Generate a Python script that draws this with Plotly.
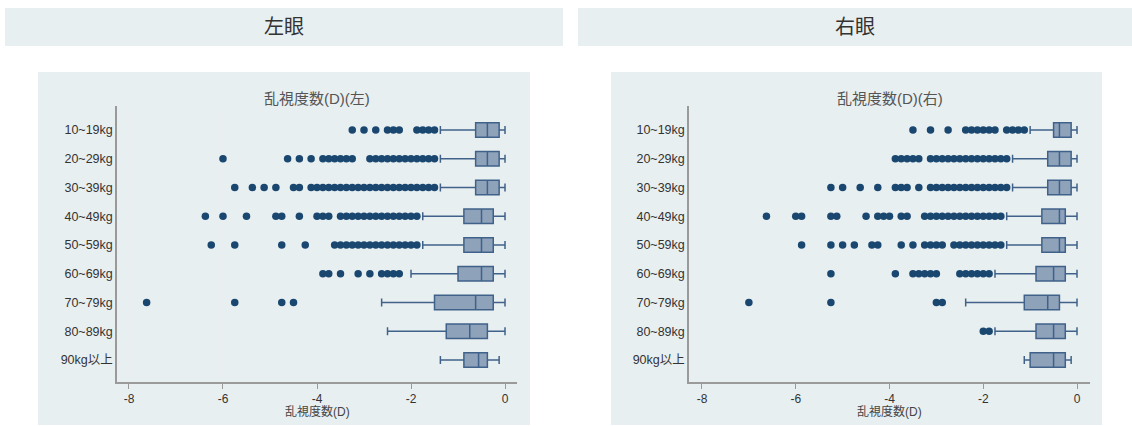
import plotly.graph_objects as go

categories = ["10~19kg", "20~29kg", "30~39kg", "40~49kg", "50~59kg",
              "60~69kg", "70~79kg", "80~89kg", "90kg以上"]
x_ticks = [-8, -6, -4, -2, 0]
x_tick_labels = ["-8", "-6", "-4", "-2", "0"]

# 左眼
left_q1 = [-0.625, -0.625, -0.625, -0.875, -0.875, -1.0, -1.5, -1.25, -0.875]
left_median = [-0.375, -0.375, -0.375, -0.5, -0.5, -0.5, -0.625, -0.75, -0.5625]
left_q3 = [-0.125, -0.125, -0.125, -0.25, -0.25, -0.25, -0.25, -0.375, -0.375]
left_lower = [-1.375, -1.375, -1.375, -1.75, -1.75, -2.0, -2.625, -2.5, -1.375]
left_upper = [0, 0, 0, 0, 0, 0, 0, 0, -0.125]
left_outliers = [
    [-3.25, -3.0, -2.75, -2.5, -2.375, -2.25, -1.875, -1.75, -1.625, -1.5],
    [-6.0, -4.625, -4.375, -4.125, -3.875, -3.75, -3.625, -3.5, -3.375, -3.25,
     -2.875, -2.75, -2.625, -2.5, -2.375, -2.25, -2.125, -2.0, -1.875, -1.75, -1.625, -1.5],
    [-5.75, -5.375, -5.125, -4.875, -4.5, -4.375, -4.125, -4.0, -3.875, -3.75, -3.625,
     -3.5, -3.375, -3.25, -3.125, -3.0, -2.875, -2.75, -2.625, -2.5, -2.375, -2.25,
     -2.125, -2.0, -1.875, -1.75, -1.625, -1.5],
    [-6.375, -6.0, -5.5, -4.875, -4.75, -4.375, -4.0, -3.875, -3.75, -3.5, -3.375,
     -3.25, -3.125, -3.0, -2.875, -2.75, -2.625, -2.5, -2.375, -2.25, -2.125, -2.0, -1.875],
    [-6.25, -5.75, -4.75, -4.25, -3.625, -3.5, -3.375, -3.25, -3.125, -3.0, -2.875,
     -2.75, -2.625, -2.5, -2.375, -2.25, -2.125, -2.0, -1.875],
    [-3.875, -3.75, -3.5, -3.125, -2.875, -2.625, -2.5, -2.375, -2.25],
    [-7.625, -5.75, -4.75, -4.5],
    [],
    [],
]

# 右眼
right_q1 = [-0.5, -0.625, -0.625, -0.75, -0.75, -0.875, -1.125, -0.875, -1.0]
right_median = [-0.375, -0.375, -0.375, -0.375, -0.375, -0.5, -0.625, -0.5, -0.5]
right_q3 = [-0.125, -0.125, -0.125, -0.25, -0.25, -0.25, -0.375, -0.25, -0.25]
right_lower = [-1.0, -1.375, -1.375, -1.5, -1.5, -1.75, -2.375, -1.75, -1.125]
right_upper = [0, 0, 0, 0, 0, 0, 0, 0, -0.125]
right_outliers = [
    [-3.5, -3.125, -2.75, -2.375, -2.25, -2.125, -2.0, -1.875, -1.75, -1.5, -1.375, -1.25, -1.125],
    [-3.875, -3.75, -3.625, -3.5, -3.375, -3.125, -3.0, -2.875, -2.75, -2.625, -2.5,
     -2.375, -2.25, -2.125, -2.0, -1.875, -1.75, -1.625, -1.5],
    [-5.25, -5.0, -4.625, -4.25, -3.875, -3.75, -3.625, -3.375, -3.125, -3.0, -2.875,
     -2.75, -2.625, -2.5, -2.375, -2.25, -2.125, -2.0, -1.875, -1.75, -1.625, -1.5],
    [-6.625, -6.0, -5.875, -5.25, -5.125, -4.5, -4.25, -4.125, -4.0, -3.75, -3.625,
     -3.25, -3.125, -3.0, -2.875, -2.75, -2.625, -2.5, -2.375, -2.25, -2.125, -2.0,
     -1.875, -1.75, -1.625],
    [-5.875, -5.25, -5.0, -4.75, -4.375, -4.25, -3.75, -3.5, -3.25, -3.125, -3.0, -2.875,
     -2.625, -2.5, -2.375, -2.25, -2.125, -2.0, -1.875, -1.75, -1.625],
    [-5.25, -3.875, -3.5, -3.375, -3.25, -3.125, -3.0, -2.5, -2.375, -2.25, -2.125, -2.0, -1.875],
    [-7.0, -5.25, -3.0, -2.875],
    [-2.0, -1.875],
    [],
]

W, H = 1132, 426
positions = list(range(len(categories)))

DOT = "#1a476f"
BOX_FILL = "#8ea2ba"
BOX_LINE = "#40628a"
BG = "#e8eff1"
FONT = "Liberation Sans, Arial, Noto Sans CJK JP, sans-serif"
CJK = "Noto Sans CJK JP, sans-serif"

fig = go.Figure()


def add_panel(q1, med, q3, lo, up, outl, xa, ya):
    fig.add_trace(go.Box(
        y=positions, q1=q1, median=med, q3=q3, lowerfence=lo, upperfence=up,
        orientation="h", width=0.5, whiskerwidth=0.55, boxpoints=False,
        fillcolor=BOX_FILL, line=dict(color=BOX_LINE, width=1.5),
        xaxis=xa, yaxis=ya, showlegend=False, hoverinfo="skip",
    ))
    xs, ys = [], []
    for i, vals in enumerate(outl):
        for v in vals:
            xs.append(v)
            ys.append(positions[i])
    fig.add_trace(go.Scatter(
        x=xs, y=ys, mode="markers",
        marker=dict(color=DOT, size=7.5, line=dict(width=0)),
        xaxis=xa, yaxis=ya, showlegend=False, hoverinfo="skip",
    ))


add_panel(left_q1, left_median, left_q3, left_lower, left_upper, left_outliers, "x", "y")
add_panel(right_q1, right_median, right_q3, right_lower, right_upper, right_outliers, "x2", "y2")


def px_x(v):
    return v / W


def px_y(v):
    return 1 - v / H


yrange = [8.765, -0.835]
common_x = dict(
    tickvals=x_ticks, ticktext=x_tick_labels, showgrid=True, gridcolor="#e9eef0",
    gridwidth=1, zeroline=False, showline=True, linecolor="#9a9a9a", linewidth=1.5,
    ticks="outside", ticklen=5, tickcolor="#9a9a9a", tickfont=dict(family=FONT, size=12, color="#333"),
)
common_y = dict(
    tickvals=positions, ticktext=categories, range=yrange, showgrid=False,
    zeroline=False, showline=True, linecolor="#9a9a9a", linewidth=1.5, ticks="",
    tickfont=dict(family=FONT, size=12.5, color="#333"),
)

fig.update_layout(
    width=W, height=H, margin=dict(l=0, r=0, t=0, b=0),
    paper_bgcolor="white", plot_bgcolor="white",
    xaxis=dict(domain=[px_x(117), px_x(517)], range=[-8.255, 0.255], anchor="y", **common_x),
    yaxis=dict(domain=[px_y(382), px_y(106)], anchor="x", **common_y),
    xaxis2=dict(domain=[px_x(689), px_x(1090)], range=[-8.277, 0.277], anchor="y2", **common_x),
    yaxis2=dict(domain=[px_y(382), px_y(106)], anchor="x2", **common_y),
)

shapes = []
for x0, x1 in [(5, 563), (578, 1132)]:
    shapes.append(dict(type="rect", xref="paper", yref="paper", x0=px_x(x0), x1=px_x(x1),
                       y0=px_y(46), y1=px_y(8), fillcolor=BG, line=dict(width=0), layer="below"))
for x0, x1 in [(38, 530), (611, 1102)]:
    shapes.append(dict(type="rect", xref="paper", yref="paper", x0=px_x(x0), x1=px_x(x1),
                       y0=px_y(425), y1=px_y(72), fillcolor=BG, line=dict(width=0), layer="below"))
fig.update_layout(shapes=shapes)

annotations = [
    dict(text="左眼", x=px_x(284), y=px_y(26), font=dict(family=CJK, size=20, color="#333")),
    dict(text="右眼", x=px_x(855), y=px_y(26), font=dict(family=CJK, size=20, color="#333")),
    dict(text="乱視度数(D)(左)", x=px_x(317), y=px_y(98), font=dict(family=FONT, size=15, color="#555")),
    dict(text="乱視度数(D)(右)", x=px_x(889.5), y=px_y(98), font=dict(family=FONT, size=15, color="#555")),
    dict(text="乱視度数(D)", x=px_x(317), y=px_y(411), font=dict(family=FONT, size=12, color="#444")),
    dict(text="乱視度数(D)", x=px_x(889.5), y=px_y(411), font=dict(family=FONT, size=12, color="#444")),
]
for a in annotations:
    a.update(xref="paper", yref="paper", showarrow=False, xanchor="center", yanchor="middle")
fig.update_layout(annotations=annotations)

fig.write_html(
    "out.html",
    config={"displayModeBar": False},
    post_script="document.body.style.margin='0';document.body.style.padding='0';",
)
